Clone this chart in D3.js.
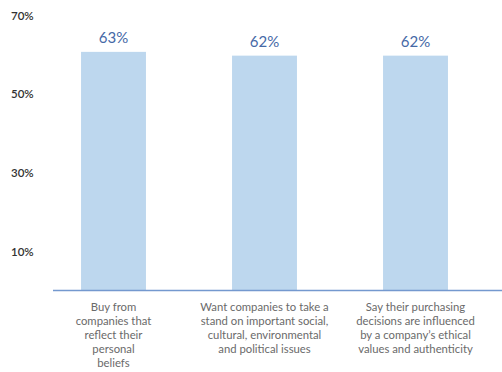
<!DOCTYPE html>
<html>
<head>
<meta charset="utf-8">
<style>
	body{
		margin: 0;
		background: white;
	}
	svg{
		display: block;
	}
</style>
</head>
<body>
<script src="https://cdn.jsdelivr.net/npm/d3@7/dist/d3.min.js" charset="utf-8"></script>
<svg width="502" height="372"></svg>
<script>
	// chart data
	var categories = [
		["Buy from", "companies that", "reflect their", "personal", "beliefs"],
		["Want companies to take a", "stand on important social,", "cultural, environmental", "and political issues"],
		["Say their purchasing", "decisions are influenced", "by a company\u2019s ethical", "values and authenticity"]
	];
	var values = [63, 62, 62];
	var valueLabels = ["63%", "62%", "62%"];
	var tickValues = [10, 30, 50, 70];
	var tickLabels = ["10%", "30%", "50%", "70%"];

	var baseY = 290;
	var svg = d3.select("svg");

	var x = d3.scaleBand()
		.domain(d3.range(values.length))
		.range([38, 491])
		.paddingInner(0.57)
		.paddingOuter(0.285);

	// bars and the percent labels on the left do not share the same spacing in the original
	var y = d3.scaleLinear().domain([0, 100]).range([baseY, baseY - 378]);
	var yTicks = d3.scaleLinear().domain([0, 70]).range([baseY + 1, 15.7]);

	// tick labels
	svg.append("g").selectAll("text")
		.data(tickValues)
		.enter().append("text")
		.attr("x", 11)
		.attr("y", function(d){ return yTicks(d); })
		.attr("dy", "0.35em")
		.style("font", "600 11.5px Lato")
		.style("fill", "#333")
		.text(function(d, i){ return tickLabels[i]; });

	// bars
	svg.append("g").selectAll("rect")
		.data(values)
		.enter().append("rect")
		.attr("x", function(d, i){ return x(i); })
		.attr("y", function(d){ return y(d); })
		.attr("width", x.bandwidth())
		.attr("height", function(d){ return baseY - y(d); })
		.attr("fill", "#bdd7ee");

	// value labels
	svg.append("g").selectAll("text")
		.data(values)
		.enter().append("text")
		.attr("x", function(d, i){ return x(i) + x.bandwidth() / 2; })
		.attr("y", function(d){ return y(d) - 9; })
		.attr("text-anchor", "middle")
		.style("font", "15px Lato")
		.style("fill", "#4569a6")
		.text(function(d, i){ return valueLabels[i]; });

	// baseline
	svg.append("line")
		.attr("x1", 53)
		.attr("x2", 502)
		.attr("y1", baseY + 0.5)
		.attr("y2", baseY + 0.5)
		.attr("stroke", "#7499cf")
		.attr("stroke-width", 1.5);

	// category labels
	var cat = svg.append("g").selectAll("text")
		.data(categories)
		.enter().append("text")
		.attr("text-anchor", "middle")
		.style("font", "11.3px Lato")
		.style("fill", "#6a6a6a");

	cat.each(function(lines, i){
		var t = d3.select(this);
		lines.forEach(function(line, j){
			t.append("tspan")
				.attr("x", x(i) + x.bandwidth() / 2)
				.attr("y", 311 + j * 14)
				.text(line);
		});
	});
</script>
</body>
</html>
